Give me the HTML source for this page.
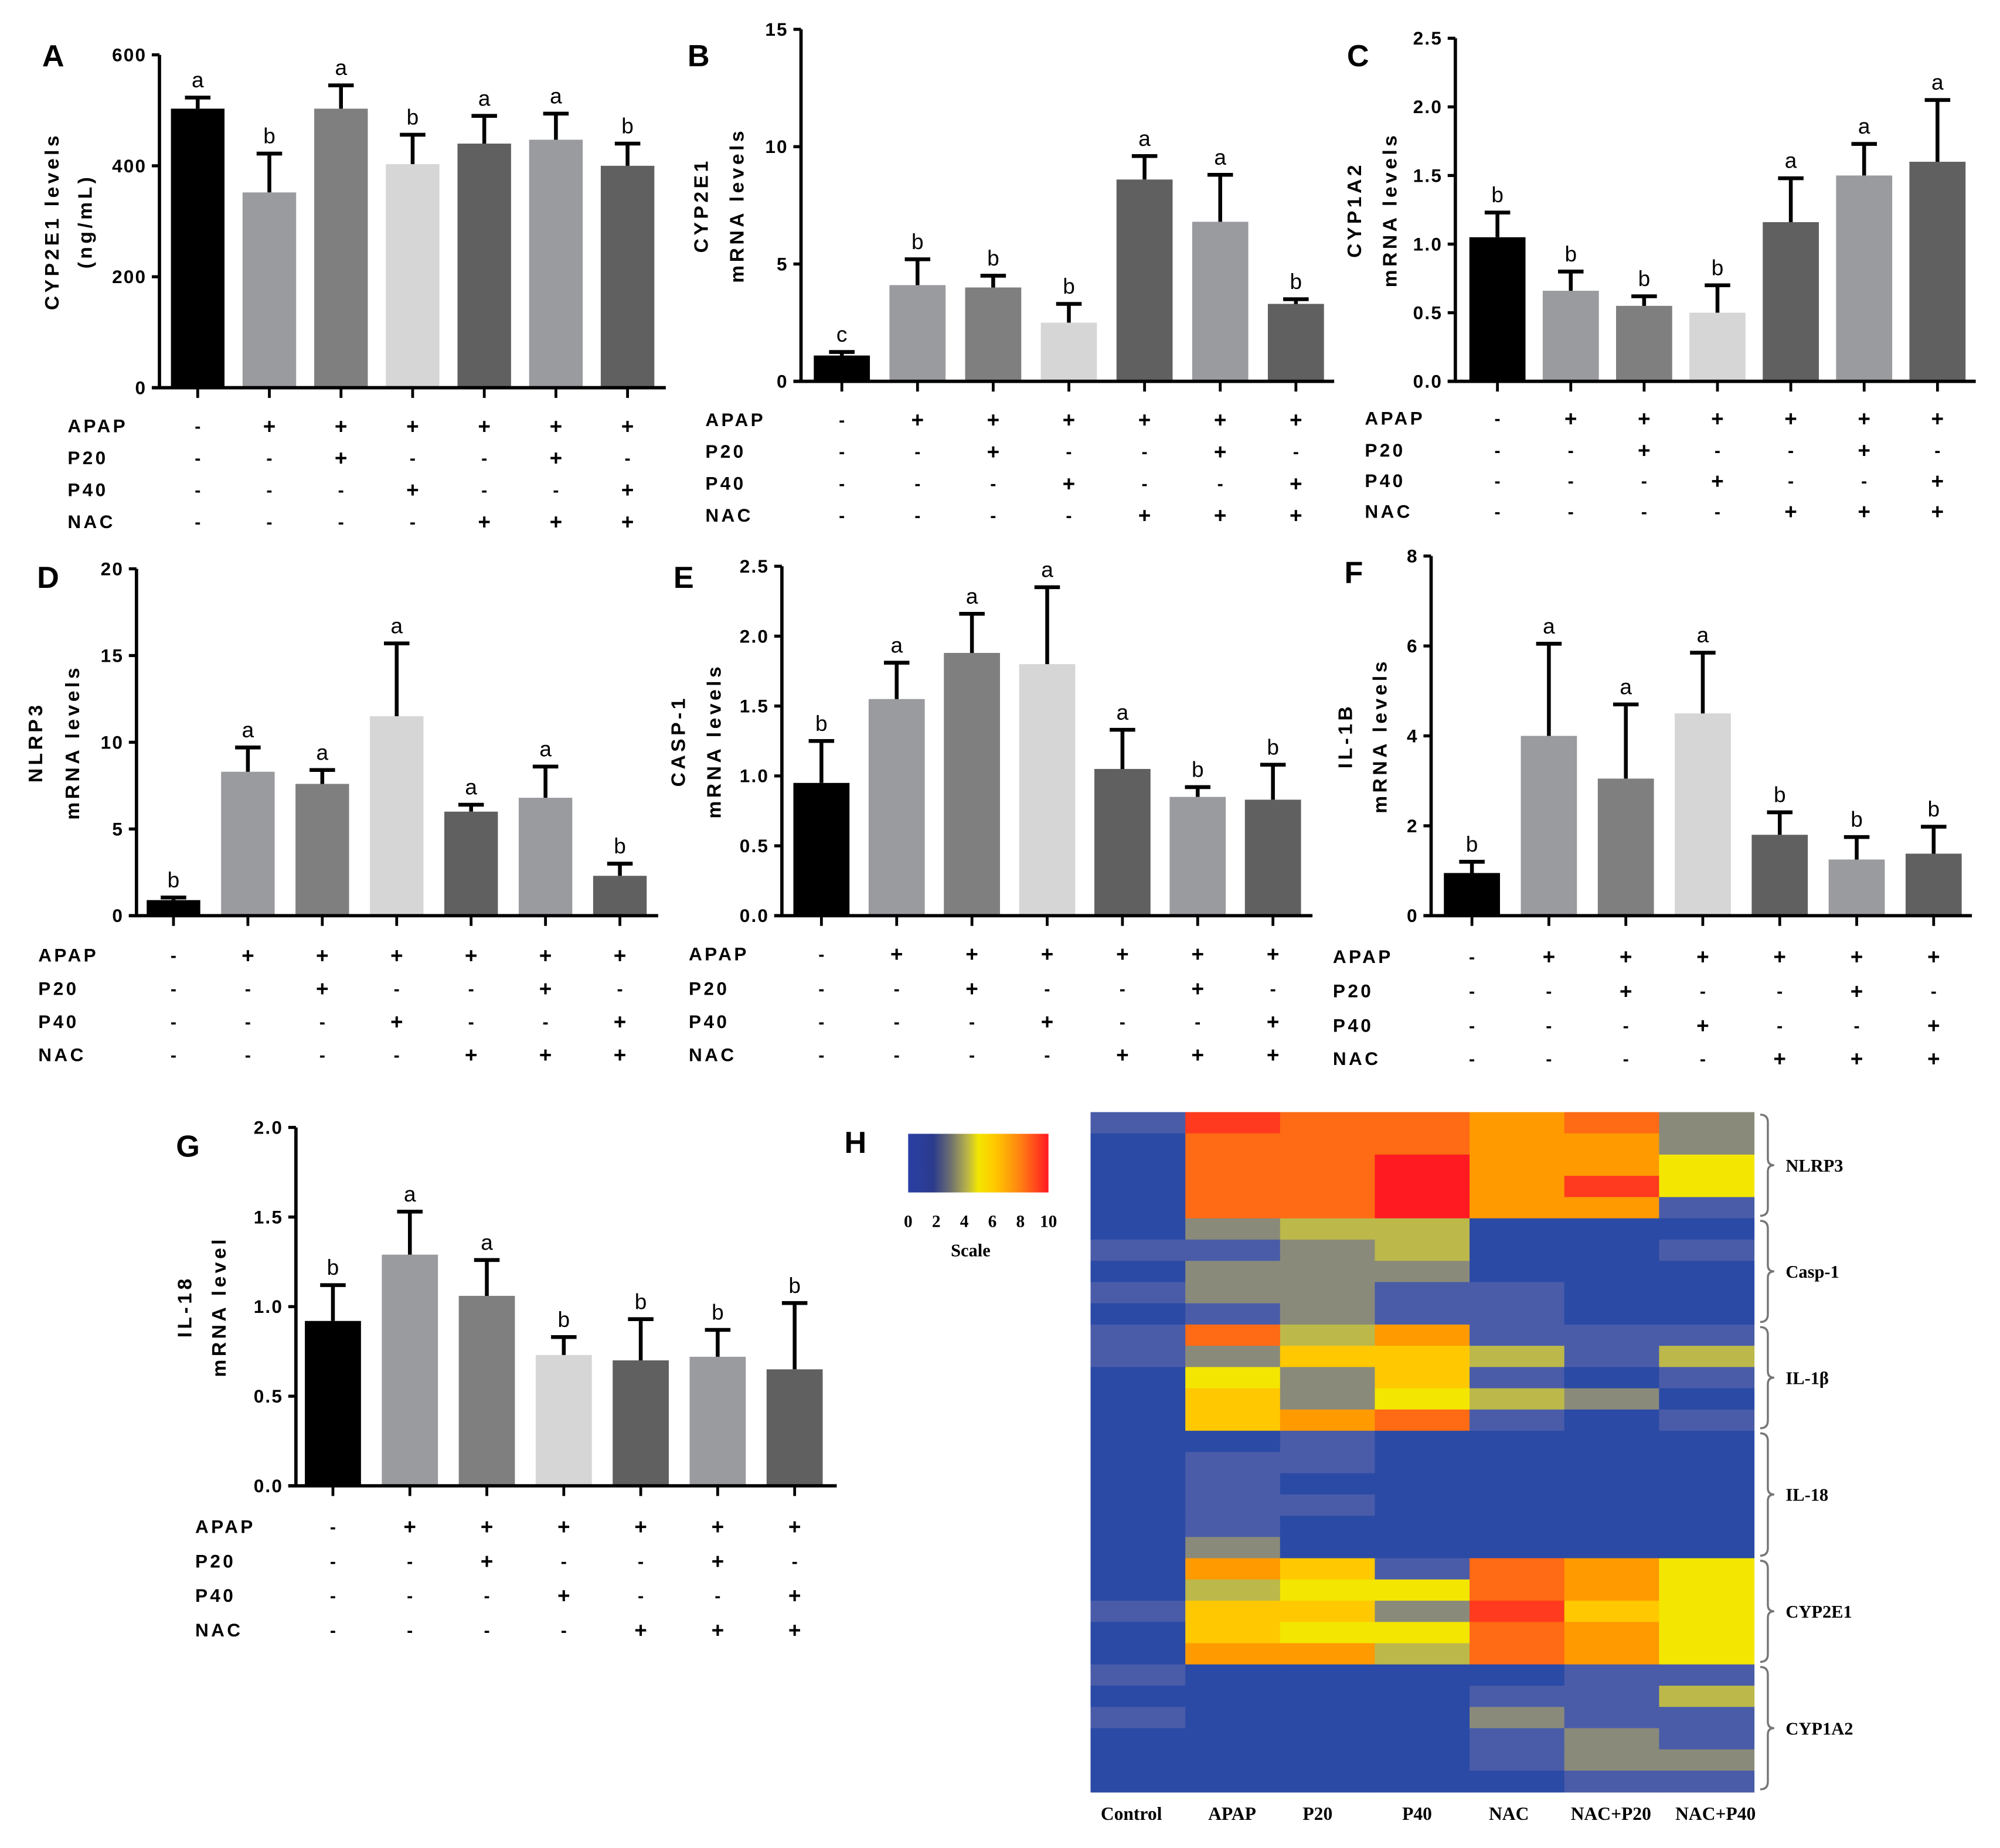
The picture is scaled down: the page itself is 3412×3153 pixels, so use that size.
<!DOCTYPE html>
<html><head><meta charset="utf-8"><style>
html,body{margin:0;padding:0;background:#fff}
svg{display:block}
.t{font-family:"Liberation Sans",Arial,sans-serif}
.tr{font-family:"Liberation Serif",serif;font-weight:bold}
</style></head><body>
<svg id="fig" width="3412" height="3153" viewBox="0 0 1568 1449" xmlns="http://www.w3.org/2000/svg"></svg>
<script>
const NS="http://www.w3.org/2000/svg";
const svg=document.getElementById('fig');
const treatRows=["APAP","P20","P40","NAC"];
const signs=[["-","+","+","+","+","+","+"],["-","-","+","-","-","+","-"],["-","-","-","+","-","-","+"],["-","-","-","-","+","+","+"]];
const barColors=["#000000","#9a9b9f","#7f7f7f","#d6d6d6","#606060","#9a9b9f","#606060"];
// Panel data
const valsA=[503,352,503,403,440,447,400], errA=[20,70,42,53,50,47,40], letA=["a","b","a","b","a","a","b"], ticksA=[0,200,400,600];
const valsB=[1.1,4.1,4.0,2.5,8.6,6.8,3.3], errB=[0.15,1.1,0.5,0.8,1.0,2.0,0.2], letB=["c","b","b","b","a","a","b"], ticksB=[0,5,10,15];
const valsC=[1.05,0.66,0.55,0.50,1.16,1.50,1.60], errC=[0.18,0.14,0.07,0.20,0.32,0.23,0.45], letC=["b","b","b","b","a","a","a"], ticksC=["0.0","0.5","1.0","1.5","2.0","2.5"];
const valsD=[0.9,8.3,7.6,11.5,6.0,6.8,2.3], errD=[0.15,1.4,0.8,4.2,0.4,1.8,0.7], letD=["b","a","a","a","a","a","b"], ticksD=[0,5,10,15,20];
const valsE=[0.95,1.55,1.88,1.80,1.05,0.85,0.83], errE=[0.3,0.26,0.28,0.55,0.28,0.07,0.25], letE=["b","a","a","a","a","b","b"], ticksE=["0.0","0.5","1.0","1.5","2.0","2.5"];
const valsF=[0.95,4.0,3.05,4.5,1.8,1.25,1.38], errF=[0.25,2.05,1.65,1.35,0.5,0.5,0.6], letF=["b","a","a","a","b","b","b"], ticksF=[0,2,4,6,8];
const valsG=[0.92,1.29,1.06,0.73,0.70,0.72,0.65], errG=[0.2,0.24,0.2,0.1,0.23,0.15,0.37], letG=["b","a","a","b","b","b","b"], ticksG=["0.0","0.5","1.0","1.5","2.0"];

function el(tag,attrs,parent){const e=document.createElementNS(NS,tag);for(const k in attrs)e.setAttribute(k,attrs[k]);(parent||svg).appendChild(e);return e;}
function txt(s,attrs,parent){const e=el('text',attrs,parent);e.textContent=s;return e;}

function panel(cfg){
  const g=el('g',{});
  
  
  const ticks=cfg.ticks.map(Number);const ymax=ticks[ticks.length-1];
  const y=v=>cfg.bot-(v/ymax)*(cfg.bot-cfg.top);
  const step=(cfg.last-cfg.first)/6;
  const x=i=>cfg.first+i*step;
  const bw=cfg.bw;
  const L=txt(cfg.id,{x:cfg.lx,y:cfg.ly,class:'t','font-size':24,'font-weight':'bold'},g);
  
  
  cfg.vals.forEach((v,i)=>{
    const b=el('rect',{x:x(i)-bw/2,y:y(v),width:bw,height:cfg.bot-y(v),fill:barColors[i]},g);
    
    
    const et=y(v+cfg.err[i]);
    const eb=el('path',{d:`M${x(i)} ${y(v)}V${et}M${x(i)-10} ${et}H${x(i)+10}`,stroke:'#000','stroke-width':3,fill:'none'},g);
    
    
    const lt=txt(cfg.lets[i],{x:x(i),y:et-8,class:'t','font-size':17,'text-anchor':'middle'},g);
    
    
    el('line',{x1:x(i),x2:x(i),y1:cfg.bot,y2:cfg.bot+8,stroke:'#000','stroke-width':2.2},g);
  });
  const ax=el('path',{d:`M${cfg.ax} ${cfg.top}V${cfg.bot}M${cfg.ax-6} ${cfg.bot}H${cfg.axEnd}`,stroke:'#000','stroke-width':2.6,fill:'none'},g);
  
  
  cfg.ticks.forEach(t=>{
    const ty=y(Number(t));
    el('line',{x1:cfg.ax-6,x2:cfg.ax,y1:ty,y2:ty,stroke:'#000','stroke-width':2.4},g);
    const tl=txt(String(t),{x:cfg.ax-10,y:ty+5,class:'t','font-size':14.5,'font-weight':'bold','text-anchor':'end','letter-spacing':1},g);
    
    
  });
  const cy=(cfg.top+cfg.bot)/2;
  cfg.ylab.forEach((s,k)=>{
    const yl=txt(s,{x:cfg.ylx[k],y:cy,class:'t','font-size':15.5,'font-weight':'bold','text-anchor':'middle','letter-spacing':2.5,transform:`rotate(-90 ${cfg.ylx[k]} ${cy})`},g);
    
    
  });
  treatRows.forEach((r,ri)=>{
    const ry=cfg.rows[ri];
    const rl=txt(r,{x:cfg.rlx,y:ry+5,class:'t','font-size':14.5,'font-weight':'bold','letter-spacing':2},g);
    
    
    signs[ri].forEach((s,i)=>{
      const st=txt(s,{x:x(i),y:ry+(s=='+'?6:5),class:'t','font-size':s=='+'?17:14,'font-weight':'bold','text-anchor':'middle'},g);
      
      
    });
  });
}
panel({id:'A',lx:33,ly:52,vals:valsA,err:errA,lets:letA,ticks:ticksA,ax:125,top:43,bot:304,axEnd:522,first:155,last:492,bw:42,ylab:["CYP2E1 levels","(ng/mL)"],ylx:[46,72],rows:[334,359,384,409],rlx:53});
panel({id:'B',lx:539,ly:52,vals:valsB,err:errB,lets:letB,ticks:ticksB,ax:628,top:23,bot:299,axEnd:1046,first:660,last:1016,bw:44,ylab:["CYP2E1","mRNA levels"],ylx:[555,583],rows:[329,354,379,404],rlx:553});
panel({id:'C',lx:1056,ly:52,vals:valsC,err:errC,lets:letC,ticks:ticksC,ax:1141,top:30,bot:299,axEnd:1549,first:1174,last:1519,bw:44,ylab:["CYP1A2","mRNA levels"],ylx:[1067,1095],rows:[328,353,377,401],rlx:1070});
panel({id:'D',lx:29,ly:461,vals:valsD,err:errD,lets:letD,ticks:ticksD,ax:107,top:446,bot:718,axEnd:516,first:136,last:486,bw:42,ylab:["NLRP3","mRNA levels"],ylx:[33,62],rows:[749,775,801,827],rlx:30});
panel({id:'E',lx:528,ly:461,vals:valsE,err:errE,lets:letE,ticks:ticksE,ax:613,top:444,bot:718,axEnd:1029,first:644,last:998,bw:44,ylab:["CASP-1","mRNA levels"],ylx:[537,565],rows:[748,775,801,827],rlx:540});
panel({id:'F',lx:1054,ly:457,vals:valsF,err:errF,lets:letF,ticks:ticksF,ax:1122,top:436,bot:718,axEnd:1546,first:1154,last:1516,bw:44,ylab:["IL-1B","mRNA levels"],ylx:[1060,1087],rows:[750,777,804,830],rlx:1045});
panel({id:'G',lx:138,ly:907,vals:valsG,err:errG,lets:letG,ticks:ticksG,ax:232,top:884,bot:1165,axEnd:656,first:261,last:623,bw:44,ylab:["IL-18","mRNA level"],ylx:[150,177],rows:[1197,1224,1251,1278],rlx:153});

// Heatmap H
const hmCols=["Control","APAP","P20","P40","NAC","NAC+P20","NAC+P40"];
const hmGenes=["NLRP3","Casp-1","IL-1β","IL-18","CYP2E1","CYP1A2"];
const hmGeneRows=[5,5,5,6,5,6];
const hmRows=[
[1,9,8,8,7,8,2.5],[0,8,8,8,7,7,2.5],[0,8,8,10,7,7,5],[0,8,8,10,7,9,5],[0,8,8,10,7,7,1],
[0,2.5,4,4,0,0,0],[1,1,2.5,4,0,0,1],[0,2.5,2.5,2.5,0,0,0],[1,2.5,2.5,1,1,0,0],[0,1,2.5,1,1,0,0],
[1,8,4,7,1,1,1],[1,2.5,6,6,4,1,4],[0,5,2.5,6,1,0,1],[0,6,2.5,5,4,2.5,0],[0,6,7,8,1,0,1],
[0,0,1,0,0,0,0],[0,1,1,0,0,0,0],[0,1,0,0,0,0,0],[0,1,1,0,0,0,0],[0,1,0,0,0,0,0],[0,2.5,0,0,0,0,0],
[0,7,6,1,8,7,5],[0,4,5,5,8,7,5],[1,6,6,2.5,9,6,5],[0,6,5,5,8,7,5],[0,7,7,4,8,7,5],
[1,0,0,0,0,1,1],[0,0,0,0,1,1,4],[1,0,0,0,2.5,1,1],[0,0,0,0,1,2.5,1],[0,0,0,0,1,2.5,2.5],[0,0,0,0,0,1,1]];
const scaleTicks=[0,2,4,6,8,10];
function hmColor(v){
  const m={0:"#2a4aa5",1:"#4a5ca8",2.5:"#8a8a7a",4:"#bcb84a",5:"#f3e600",6:"#ffc800",7:"#ff9a00",8:"#ff6a14",9:"#ff3a1e",10:"#ff1a22"};
  return m[v]||"#2a4aa5";
}
const hx0=855,hx1=1375,hy0=872,hy1=1405;
const cw=(hx1-hx0)/hmCols.length, rh=(hy1-hy0)/hmRows.length;
const hg=el('g',{});


const HL=txt('H',{x:662,y:904,class:'t','font-size':24,'font-weight':'bold'},hg);


hmRows.forEach((row,r)=>row.forEach((v,c)=>{
  const cell=el('rect',{x:hx0+c*cw,y:hy0+r*rh,width:cw+0.5,height:rh+0.5,fill:hmColor(v)},hg);
  
  
}));
const colX=[887,966,1033,1111,1183,1263,1345];
hmCols.forEach((c,i)=>{
  const t=txt(c,{x:colX[i],y:1427,class:'tr','font-size':14.5,'text-anchor':'middle'},hg);
  
  
});
let acc=0;
hmGenes.forEach((gname,i)=>{
  const y0=hy0+acc*rh, y1=hy0+(acc+hmGeneRows[i])*rh; acc+=hmGeneRows[i];
  const ym=(y0+y1)/2;
  const br=el('path',{d:`M1380 ${y0+2}Q1386 ${y0+2} 1386 ${y0+8}V${ym-5}Q1386 ${ym} 1391 ${ym}Q1386 ${ym} 1386 ${ym+5}V${y1-8}Q1386 ${y1-2} 1380 ${y1-2}`,stroke:'#777','stroke-width':1.6,fill:'none'},hg);
  
  
  const t=txt(gname,{x:1400,y:ym+5,class:'tr','font-size':14},hg);
  
  
});
// scale bar
const defs=el('defs',{});
const lg=el('linearGradient',{id:'sg',x1:0,x2:1,y1:0,y2:0},defs);
[["0","#2a3fa5"],["0.18","#2b3b8c"],["0.3","#6d6f70"],["0.42","#b9b34a"],["0.5","#f3e600"],["0.62","#ffc800"],["0.78","#ff8a10"],["1","#ff1a22"]].forEach(s=>el('stop',{offset:s[0],'stop-color':s[1]},lg));
const sb=el('rect',{x:712,y:889,width:110,height:46,fill:'url(#sg)'},hg);


scaleTicks.forEach(v=>{
  const t=txt(String(v),{x:712+v/10*110,y:962,class:'tr','font-size':13.5,'text-anchor':'middle'},hg);
  
  
});
const st=txt('Scale',{x:761,y:985,class:'tr','font-size':14,'text-anchor':'middle'},hg);


</script>
</body></html>
